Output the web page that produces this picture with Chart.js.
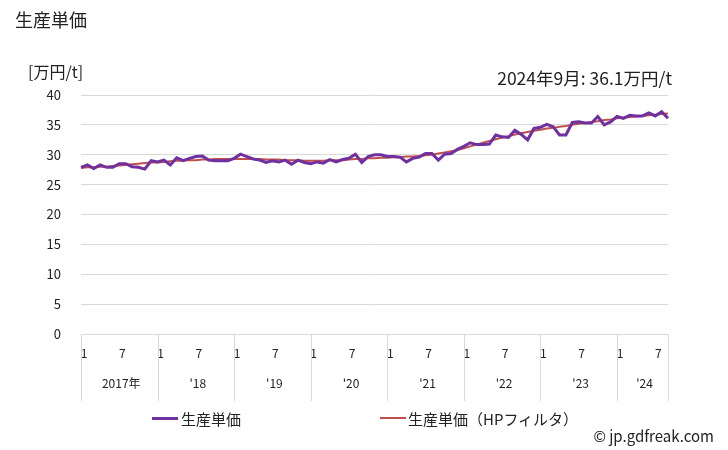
<!DOCTYPE html>
<html>
<head>
<meta charset="utf-8">
<script src="https://cdn.jsdelivr.net/npm/chart.js@4/dist/chart.umd.min.js"></script>
<style>
  body { margin: 0; background: #fff; font-family: "Noto Sans CJK JP", "Noto Sans", sans-serif; color: #222; }
  #wrap { position: relative; width: 728px; height: 450px; }
  canvas { position: absolute; left: 0; top: 0; }
  .txt { position: absolute; white-space: nowrap; }
  .swatch { position: absolute; height: 3px; width: 26px; }
</style>
</head>
<body>
<div id="wrap">
  <canvas id="priceChart" width="728" height="450"></canvas>
  <div class="txt" style="left:15px; top:6px; font-size:18px;">生産単価</div>
  <div class="txt" style="left:28px; top:59px; font-size:16px;">[万円/t]</div>
  <div class="txt" style="right:56px; top:65px; font-size:17.5px;">2024年9月: 36.1万円/t</div>
  <div class="swatch" style="left:152px; top:417px; background:#7030a0;"></div>
  <div class="txt" style="left:181px; top:408px; font-size:15px;">生産単価</div>
  <div class="swatch" style="left:380px; top:417px; background:#c0504d; height:2px;"></div>
  <div class="txt" style="left:408px; top:408px; font-size:15px;">生産単価（HPフィルタ）</div>
  <div class="txt" style="right:14px; top:425px; font-size:15px;">© jp.gdfreak.com</div>
</div>
<script>
// year blocks along the bottom axis
const years = ['2017年', "'18", "'19", "'20", "'21", "'22", "'23", "'24"];
// month tick labels (Jan and Jul)
const monthTicks = { 0: '1', 6: '7' };

// monthly unit price, Jan 2017 .. Sep 2024 (万円/t)
const unitPrice = [
  27.9, 28.3, 27.7, 28.3, 27.9, 27.9, 28.5, 28.5, 28.0, 27.9, 27.6, 29.0,
  28.8, 29.1, 28.3, 29.5, 29.0, 29.4, 29.7, 29.8, 29.1, 29.0, 29.0, 29.0,
  29.4, 30.1, 29.7, 29.3, 29.1, 28.7, 29.0, 28.8, 29.1, 28.4, 29.1, 28.7,
  28.5, 28.8, 28.6, 29.2, 28.8, 29.2, 29.4, 30.1, 28.7, 29.7, 30.0, 30.0,
  29.7, 29.7, 29.6, 28.8, 29.4, 29.6, 30.2, 30.2, 29.1, 30.1, 30.2, 30.9,
  31.4, 32.0, 31.7, 31.7, 31.8, 33.3, 33.0, 32.9, 34.1, 33.4, 32.5, 34.4,
  34.6, 35.1, 34.7, 33.3, 33.3, 35.4, 35.5, 35.3, 35.3, 36.4, 35.0, 35.5,
  36.4, 36.1, 36.6, 36.5, 36.5, 37.0, 36.5, 37.2, 36.1
];

// HP filter trend
const unitPriceHP = [
  27.8, 27.9, 27.9, 28.0, 28.0, 28.1, 28.2, 28.3, 28.4, 28.5, 28.6, 28.7,
  28.7, 28.8, 28.9, 29.0, 29.0, 29.1, 29.1, 29.2, 29.2, 29.3, 29.3, 29.3,
  29.3, 29.3, 29.3, 29.3, 29.3, 29.2, 29.2, 29.2, 29.1, 29.1, 29.1, 29.0,
  29.0, 29.0, 29.0, 29.1, 29.1, 29.1, 29.2, 29.3, 29.3, 29.4, 29.4, 29.5,
  29.5, 29.6, 29.6, 29.7, 29.7, 29.8, 29.9, 30.0, 30.2, 30.4, 30.6, 30.8,
  31.1, 31.4, 31.7, 32.0, 32.3, 32.6, 32.9, 33.1, 33.4, 33.6, 33.8, 34.0,
  34.2, 34.4, 34.5, 34.7, 34.8, 35.0, 35.2, 35.3, 35.5, 35.6, 35.8, 35.9,
  36.1, 36.2, 36.3, 36.4, 36.5, 36.6, 36.7, 36.8, 36.9
];

const monthLabels = unitPrice.map((_, i) => monthTicks[i % 12] || '');

const gridColor = '#d9d9d9';

// year separators and year names under the month ticks
const yearAxisPlugin = {
    id: 'yearAxis',
    afterDraw(chart) {
        const ctx = chart.ctx;
        const xs = chart.scales.x;
        const top = chart.chartArea.bottom;
        const right = chart.chartArea.right;
        ctx.save();
        ctx.strokeStyle = gridColor;
        ctx.lineWidth = 1;
        ctx.fillStyle = '#222';
        ctx.font = '12px "Noto Sans CJK JP", sans-serif';
        ctx.textAlign = 'center';
        ctx.textBaseline = 'middle';
        years.forEach((y, k) => {
            const x0 = xs.getPixelForValue(k * 12);
            const x1 = k * 12 + 12 < unitPrice.length ? xs.getPixelForValue(k * 12 + 12) : right;
            ctx.beginPath();
            ctx.moveTo(Math.round(x0) + 0.5, top);
            ctx.lineTo(Math.round(x0) + 0.5, 401);
            ctx.stroke();
            ctx.fillText(y, (x0 + x1) / 2 + 2, 383);
        });
        ctx.beginPath();
        ctx.moveTo(Math.round(right) + 0.5, top);
        ctx.lineTo(Math.round(right) + 0.5, 401);
        ctx.stroke();
        ctx.restore();
    }
};

const config = {
    type: 'line',
    data: {
        labels: monthLabels,
        datasets: [{
            label: '生産単価',
            data: unitPrice,
            borderColor: '#7030a0',
            borderWidth: 3,
            pointRadius: 0,
            tension: 0
        },
        {
            label: '生産単価（HPフィルタ）',
            data: unitPriceHP,
            borderColor: '#c0504d',
            borderWidth: 2,
            pointRadius: 0,
            tension: 0
        }]
    },
    options: {
        responsive: false,
        animation: false,
        layout: { padding: { left: 0, top: 95, right: 60, bottom: 0 } },
        plugins: {
            legend: { display: false },
            tooltip: { enabled: false }
        },
        scales: {
            x: {
                offset: false,
                grid: { display: false, drawTicks: false },
                border: { display: true, color: gridColor },
                ticks: {
                    autoSkip: false,
                    maxRotation: 0,
                    padding: 12,
                    labelOffset: 3,
                    color: '#222',
                    font: { family: '"Noto Sans CJK JP", sans-serif', size: 12 }
                },
                afterFit: scale => { scale.height = 116; }
            },
            y: {
                min: 0,
                max: 40,
                grid: { color: gridColor, drawTicks: false },
                border: { display: false },
                ticks: {
                    stepSize: 5,
                    padding: 20,
                    color: '#222',
                    font: { family: '"Noto Sans CJK JP", sans-serif', size: 13 }
                },
                afterFit: scale => { scale.width = 81; }
            }
        }
    },
    plugins: [yearAxisPlugin]
};

new Chart(document.getElementById('priceChart'), config);
</script>
</body>
</html>
